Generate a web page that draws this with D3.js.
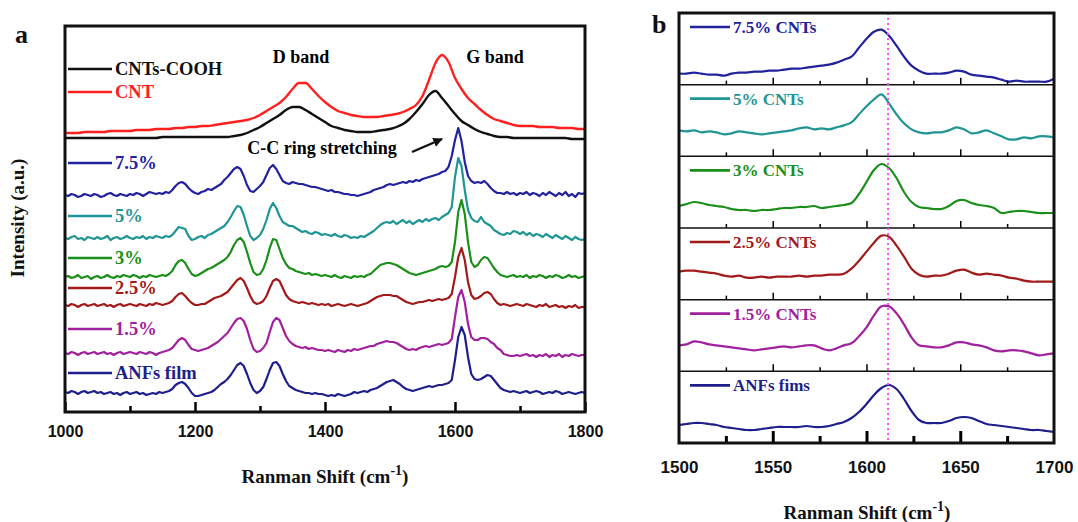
<!DOCTYPE html>
<html><head><meta charset="utf-8">
<script src="https://cdn.jsdelivr.net/npm/d3@7"></script>
<style>body{margin:0;background:#fff}svg{display:block}</style>
</head><body>
<svg id="c" width="1078" height="522"></svg>
<script>
// ---------- DATA ----------
// Panel a: Raman shift grid (cm-1) for the aramid-nanofiber spectra, 5 cm-1 sampling
const shiftA = d3.range(1000, 1801, 5);
// Panel a: CNT reference spectra, 10 cm-1 sampling
const shiftCNT = d3.range(1000, 1801, 10);

// Intensities (a.u., stacked as plotted)
const cntCOOH = [
274,274,274,274,274,274,274,274,274,274,
274,274,274,274,274,275,275,275,275,275,
275,275,275,275,275,275,276,277,279,282,
285,289,293,297,302,305,305,302,298,294,
290,286,284,282,281,280,280,280,281,282,
283,285,288,293,300,308,317,321,314,306,
298,291,287,283,280,278,276,275,275,274,
274,274,274,274,274,274,274,274,273,273,
273];
const cntPristine = [
279,279,279,280,280,280,280,281,281,281,
281,282,282,282,283,283,283,284,284,285,
285,286,286,287,288,289,290,291,292,294,
297,301,305,309,315,323,329,329,323,316,
310,305,301,299,297,296,295,295,295,296,
297,298,300,303,307,316,332,349,357,350,
334,323,314,308,302,297,293,291,289,287,
286,286,286,285,285,285,284,284,284,283,
283];
const anf75 = [
217,216,218,217,215,216,218,217,216,218,
217,215,216,218,219,217,216,218,217,216,
218,217,219,218,216,218,220,219,218,219,
218,220,219,222,226,229,230,228,224,221,
219,218,220,221,223,222,224,226,228,232,
235,239,243,245,243,236,227,221,220,223,
226,230,237,244,247,243,237,231,229,228,
230,229,228,228,227,226,225,225,224,223,
222,221,222,220,220,219,218,218,217,217,
216,217,218,219,220,222,223,224,225,227,
228,227,228,229,230,229,231,230,232,231,
233,234,235,236,237,238,240,241,245,256,
272,284,271,250,236,231,229,230,229,231,
228,224,221,219,219,218,220,218,219,217,
219,218,220,217,219,218,216,219,217,220,
218,216,219,217,220,216,218,215,219,218,
219];
const anf5 = [
174,173,175,176,173,174,172,175,174,173,
175,173,174,176,172,174,175,173,174,176,
174,173,175,174,176,173,175,174,176,175,
174,176,175,177,181,185,184,183,176,172,
173,175,176,174,177,178,180,182,184,186,
190,195,201,206,205,197,186,176,172,174,
177,183,192,203,209,204,196,190,188,186,
186,184,182,180,181,179,178,180,179,177,
178,177,176,178,176,175,177,176,174,175,
174,176,175,177,179,181,184,187,189,190,
189,191,188,190,192,189,191,188,190,192,
190,193,191,193,194,192,195,197,199,205,
235,254,246,222,202,194,191,190,195,190,
188,186,182,180,178,177,179,178,181,180,
178,180,177,179,176,178,177,175,178,176,
174,177,175,173,176,174,172,175,173,172,
173];
const anf3 = [
135,136,134,135,137,134,135,136,133,135,
136,134,135,137,135,134,136,135,137,136,
135,137,136,134,136,135,137,136,135,136,
137,136,138,141,147,151,152,149,143,138,
136,137,139,141,143,144,146,148,150,152,
155,160,167,172,174,170,160,149,140,137,
138,143,152,164,173,172,163,154,148,144,
143,141,140,139,138,139,137,138,137,136,
137,136,135,137,135,134,136,135,134,136,
135,136,135,137,138,141,144,147,148,149,
149,148,147,145,143,141,139,138,137,138,
139,140,141,142,143,145,146,145,146,150,
170,200,212,198,170,150,145,147,152,155,
154,149,144,140,137,136,135,136,137,135,
136,135,137,134,136,135,137,136,134,136,
135,137,136,134,135,137,135,136,134,135,
136];
const anf25 = [
107,106,108,107,105,107,108,106,107,108,
106,107,108,106,107,105,107,108,106,107,
108,107,106,108,107,106,108,107,109,108,
107,108,109,111,115,118,119,116,112,109,
107,107,108,108,110,112,114,115,116,118,
120,124,128,132,134,131,124,116,110,108,
109,111,116,124,131,133,131,124,117,113,
111,110,109,110,109,108,109,108,107,108,
107,108,106,107,108,107,106,107,108,107,
106,107,108,109,111,113,115,116,117,117,
117,116,116,114,112,110,109,108,109,110,
110,111,112,111,112,113,112,113,114,118,
135,155,164,152,130,117,113,114,116,119,
120,118,113,109,107,108,107,106,107,108,
107,106,108,107,106,105,107,106,108,105,
106,107,105,106,104,106,105,107,104,105,
105];
const anf15 = [
59,58,60,59,57,59,60,58,59,60,
58,59,60,58,59,57,59,60,58,59,
60,59,58,60,59,58,60,59,57,59,
60,61,62,64,68,72,74,72,67,63,
62,61,62,63,64,66,68,70,73,76,
79,84,89,93,94,91,83,72,63,60,
61,64,69,80,90,94,92,84,76,71,
68,66,65,64,65,63,64,63,62,62,
61,62,61,60,62,61,60,62,61,63,
62,63,64,65,66,66,68,69,70,71,
70,70,69,67,65,63,62,63,62,64,
65,66,65,66,67,68,67,68,69,73,
95,115,122,110,88,75,72,72,74,74,
73,70,68,64,62,58,57,56,56,57,
56,57,58,56,57,55,57,56,58,55,
57,56,58,55,57,56,58,57,56,57,
57];
const anfFilm = [
20,19,21,20,18,20,21,19,20,21,
19,20,18,19,20,18,19,17,19,20,
18,19,20,18,19,17,18,19,18,20,
19,20,21,23,27,29,30,28,24,19,
16,16,17,18,19,20,22,25,28,30,
33,37,42,47,49,46,38,29,22,19,
21,25,33,42,49,50,46,38,31,26,
24,22,21,20,19,19,18,19,18,18,
17,16,17,16,18,17,16,17,18,20,
19,20,21,20,22,23,24,26,28,30,
31,32,30,28,25,23,22,21,22,23,
24,25,26,25,26,27,27,28,29,32,
52,75,85,77,55,38,33,32,33,35,
37,36,32,28,24,22,21,20,21,20,
19,20,21,19,20,21,20,18,19,20,
19,21,20,18,19,20,19,18,19,20,
19];

const namesA = ["CNTs-COOH","CNT","7.5%","5%","3%","2.5%","1.5%","ANFs film"];
const colorsA = ["#111111","#ff1f1f","#22229e","#1f9595","#1a8f1a","#a31a1a","#a0209e","#1e1e8c"];

// Panel b: zoom on G region, 4 cm-1 sampling
const shiftB = d3.range(1500, 1701, 4);
const b75 = [11,11,12,11,10,10,9,11,12,12, 13,13,14,14,15,16,16,17,18,19, 20,22,25,28,37,46,53,55,49,39, 28,19,14,11,11,11,12,14,13,10, 9,8,7,5,3,4,3,3,3,3, 6];
const b5 = [26,25,26,24,25,24,22,23,25,24, 23,22,23,24,25,26,28,29,27,28, 27,29,31,34,42,50,57,62,53,42, 33,27,24,23,24,24,26,29,27,23, 24,26,23,20,17,17,19,18,20,20, 19];
const b3 = [22,24,26,25,23,22,21,19,18,18, 17,18,18,19,20,20,21,21,22,20, 21,22,23,25,34,46,58,64,60,50, 36,26,21,20,19,19,22,27,28,25, 23,22,20,15,16,17,17,16,15,15, 15];
const b25 = [28,29,29,28,27,26,24,23,24,22, 22,23,22,23,23,23,24,23,24,24, 25,25,26,31,39,48,57,64,63,54, 43,31,25,23,24,24,26,29,30,27, 25,26,25,24,22,21,19,18,18,18, 18];
const b15 = [26,27,30,29,27,26,25,24,23,22, 21,22,23,24,25,24,25,26,26,23, 21,23,26,28,35,44,56,65,65,58, 47,34,26,25,24,24,26,29,29,27, 26,24,21,20,21,21,20,18,16,17, 18];
const bANF = [18,19,20,20,19,18,16,15,14,13, 13,14,15,16,16,16,16,17,16,16, 17,19,21,25,31,39,48,55,58,54, 44,32,23,20,20,20,22,25,26,25, 22,19,18,17,16,15,14,13,13,12, 11];
const namesB = ["7.5% CNTs","5% CNTs","3% CNTs","2.5% CNTs","1.5% CNTs","ANFs fims"];
const colorsB = ["#22229e","#1f9595","#1a8f1a","#a31a1a","#a0209e","#1e1e8c"];
const refShiftB = 1611.5;

const ticksAMajor = [1000,1200,1400,1600,1800];
const ticksAMinor = [1100,1300,1500,1700];
const ticksBMajor = [1500,1550,1600,1650,1700];
const ticksBMinor = [1525,1575,1625,1675];

// ---------- DRAW ----------
const serif = "'Liberation Serif','Times New Roman',serif";
const sans = "'Liberation Sans',Arial,sans-serif";
const svg = d3.select("#c");

// ===== Panel a =====
const A = {l:65, r:585, t:26, b:412};
const xA = d3.scaleLinear().domain([1000,1800]).range([A.l, A.r]);
const yA = d3.scaleLinear().domain([0,386]).range([A.b, A.t]);
const gA = svg.append("g");

const smoothLine = d3.line().x(d=>xA(d[0])).y(d=>yA(d[1])).curve(d3.curveMonotoneX);
const rawLine = d3.line().x(d=>xA(d[0])).y(d=>yA(d[1])).curve(d3.curveLinear);

const cntSeries = [cntCOOH, cntPristine];
cntSeries.forEach((vals,i)=>{
  gA.append("path").attr("d", smoothLine(shiftCNT.map((s,k)=>[s,vals[k]])))
    .attr("fill","none").attr("stroke",colorsA[i]).attr("stroke-width",2.4);
});
const anfSeries = [anf75, anf5, anf3, anf25, anf15, anfFilm];
anfSeries.forEach((vals,i)=>{
  gA.append("path").attr("d", rawLine(shiftA.map((s,k)=>[s,vals[k]])))
    .attr("fill","none").attr("stroke",colorsA[i+2]).attr("stroke-width",2.2)
    .attr("stroke-linejoin","round");
});

// legend a
const legYA = [69,92,163,216,258,288,329,373];
namesA.forEach((n,i)=>{
  gA.append("line").attr("x1",68).attr("x2",112).attr("y1",legYA[i]).attr("y2",legYA[i])
    .attr("stroke",colorsA[i]).attr("stroke-width",2.6);
  gA.append("text").attr("x",115).attr("y",legYA[i]).attr("dy","0.35em")
    .attr("font-family",serif).attr("font-weight","bold").attr("font-size",18.5)
    .attr("fill",colorsA[i]).text(n);
});

// annotations
const ann = (x,y,t)=>gA.append("text").attr("x",x).attr("y",y).attr("text-anchor","middle")
  .attr("dy","0.35em").attr("font-family",serif).attr("font-weight","bold").attr("font-size",18).text(t);
ann(301,57,"D band"); ann(495,57,"G band"); ann(322,148,"C-C ring stretching");
svg.append("defs").append("marker").attr("id","ah").attr("viewBox","0 0 10 10")
  .attr("refX",9).attr("refY",5).attr("markerWidth",4).attr("markerHeight",4).attr("orient","auto")
  .append("path").attr("d","M0,0 L10,5 L0,10 z").attr("fill","#111");
gA.append("line").attr("x1",412).attr("y1",152).attr("x2",442).attr("y2",139)
  .attr("stroke","#111").attr("stroke-width",2.4).attr("marker-end","url(#ah)");

// axes a
const axA = gA.append("g").attr("transform",`translate(0,${A.b})`)
  .call(d3.axisBottom(xA).tickValues(ticksAMajor).tickSize(-10).tickPadding(14).tickFormat(d3.format("d")));
axA.select(".domain").remove();
axA.selectAll("line").attr("stroke-width",2.5);
axA.selectAll("text").attr("font-family",sans).attr("font-weight","bold").attr("font-size",16).attr("fill","#111");
const axAm = gA.append("g").attr("transform",`translate(0,${A.b})`)
  .call(d3.axisBottom(xA).tickValues(ticksAMinor).tickSize(-6).tickFormat(""));
axAm.select(".domain").remove();
axAm.selectAll("line").attr("stroke-width",2.5);
gA.append("rect").attr("x",A.l).attr("y",A.t).attr("width",A.r-A.l).attr("height",A.b-A.t)
  .attr("fill","none").attr("stroke","#111").attr("stroke-width",3);

const xt = (g,x,y)=>{const t=g.append("text").attr("x",x).attr("y",y).attr("text-anchor","middle")
  .attr("font-family",serif).attr("font-weight","bold").attr("font-size",19).attr("fill","#111");
  t.append("tspan").text("Ranman Shift (cm");
  t.append("tspan").attr("dy",-8).attr("font-size",14).text("-1");
  t.append("tspan").attr("dy",8).text(")");};
xt(gA,325,483);
gA.append("text").attr("transform","translate(24,218) rotate(-90)").attr("text-anchor","middle")
  .attr("font-family",serif).attr("font-weight","bold").attr("font-size",19).attr("fill","#111")
  .text("Intensity (a.u.)");
gA.append("text").attr("x",15).attr("y",43).attr("font-family",serif).attr("font-weight","bold")
  .attr("font-size",26).attr("fill","#111").text("a");

// ===== Panel b =====
const B = {l:679, r:1054, t:13, b:443};
const xB = d3.scaleLinear().domain([1500,1700]).range([B.l, B.r]);
const gB = svg.append("g");
const seriesB = [b75,b5,b3,b25,b15,bANF];
const nB = seriesB.length, bandH = (B.b-B.t)/nB;
seriesB.forEach((vals,i)=>{
  const top = B.t + i*bandH, bot = top + bandH;
  const yB = d3.scaleLinear().domain([0,bandH]).range([bot, top]);
  const line = d3.line().x(d=>xB(d[0])).y(d=>yB(d[1])).curve(d3.curveCatmullRom);
  gB.append("path").attr("d", line(shiftB.map((s,k)=>[s,vals[k]])))
    .attr("fill","none").attr("stroke",colorsB[i]).attr("stroke-width",2.2);
  const last = i===nB-1;
  const ax = gB.append("g").attr("transform",`translate(0,${bot})`)
    .call(d3.axisBottom(xB).tickValues(ticksBMajor.slice(1,-1)).tickSize(last?-12:-7).tickFormat(""));
  ax.select(".domain").remove(); ax.selectAll("line").attr("stroke-width",last?3:1.5);
  const axm = gB.append("g").attr("transform",`translate(0,${bot})`)
    .call(d3.axisBottom(xB).tickValues(ticksBMinor).tickSize(last?-7:-4).tickFormat(""));
  axm.select(".domain").remove(); axm.selectAll("line").attr("stroke-width",last?3:1.5);
  if(!last) gB.append("line").attr("x1",B.l).attr("x2",B.r).attr("y1",bot).attr("y2",bot)
    .attr("stroke","#111").attr("stroke-width",1.5);
  gB.append("line").attr("x1",690).attr("x2",730).attr("y1",top+14).attr("y2",top+14)
    .attr("stroke",colorsB[i]).attr("stroke-width",2.6);
  gB.append("text").attr("x",733).attr("y",top+14).attr("dy","0.35em")
    .attr("font-family",serif).attr("font-weight","bold").attr("font-size",17)
    .attr("fill",colorsB[i]).text(namesB[i]);
});
gB.append("line").attr("x1",xB(refShiftB)).attr("x2",xB(refShiftB)).attr("y1",B.t).attr("y2",B.b)
  .attr("stroke","#ff4dff").attr("stroke-width",2).attr("stroke-dasharray","2,3");
const axB = gB.append("g").attr("transform",`translate(0,${B.b})`)
  .call(d3.axisBottom(xB).tickValues(ticksBMajor).tickSize(0).tickPadding(18).tickFormat(d3.format("d")));
axB.select(".domain").remove();
axB.selectAll("text").attr("font-family",sans).attr("font-weight","bold").attr("font-size",17).attr("fill","#111");
gB.append("rect").attr("x",B.l).attr("y",B.t).attr("width",B.r-B.l).attr("height",B.b-B.t)
  .attr("fill","none").attr("stroke","#111").attr("stroke-width",3);
xt(gB,867,519);
gB.append("text").attr("x",652).attr("y",33).attr("font-family",serif).attr("font-weight","bold")
  .attr("font-size",26).attr("fill","#111").text("b");
</script>
</body></html>
